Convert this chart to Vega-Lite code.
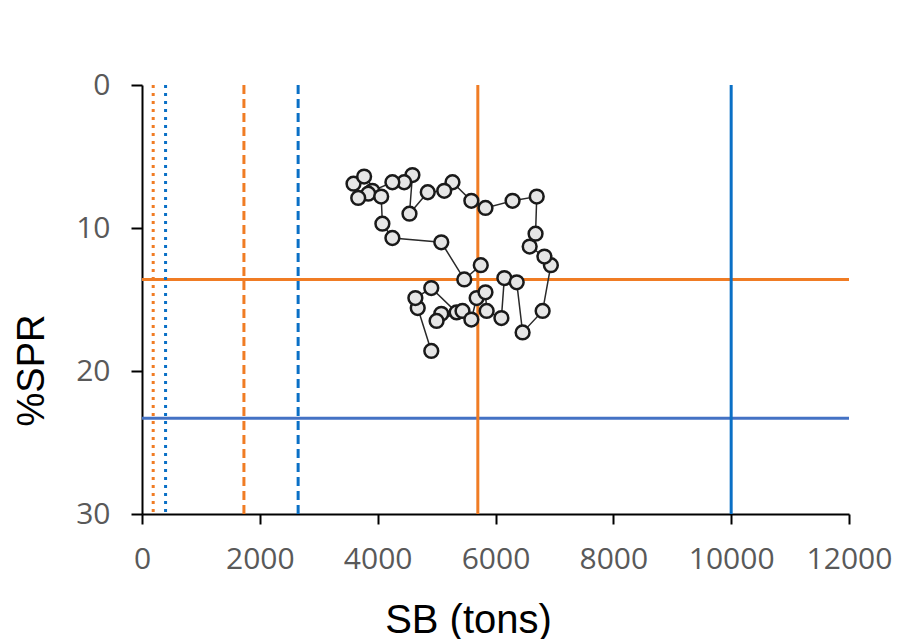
{
  "$schema": "https://vega.github.io/schema/vega-lite/v6.json",
  "width": 707,
  "height": 429,
  "autosize": {"type": "none"},
  "padding": {"left": 142, "top": 85, "right": 50, "bottom": 125},
  "background": "white",
  "config": {
    "view": {"stroke": null},
    "axis": {
      "grid": false,
      "domainColor": "#000000",
      "domainWidth": 2,
      "tickColor": "#000000",
      "tickWidth": 2,
      "labelColor": "#595959",
      "labelFont": "Open Sans",
      "labelFontSize": 30,
      "labelOverlap": false,
      "labelFlush": false,
      "titleFont": "Liberation Sans",
      "titleFontWeight": "normal",
      "titleColor": "#000000"
    }
  },
  "datasets": {
    "traj": [
      {"i": 1, "sb": 4910, "spr": 18.6},
      {"i": 2, "sb": 4680, "spr": 15.6},
      {"i": 3, "sb": 4640, "spr": 14.9},
      {"i": 4, "sb": 4910, "spr": 14.2},
      {"i": 5, "sb": 5340, "spr": 15.9},
      {"i": 6, "sb": 5080, "spr": 16.0},
      {"i": 7, "sb": 5000, "spr": 16.5},
      {"i": 8, "sb": 5440, "spr": 15.8},
      {"i": 9, "sb": 5590, "spr": 16.4},
      {"i": 10, "sb": 5680, "spr": 14.9},
      {"i": 11, "sb": 5830, "spr": 14.5},
      {"i": 12, "sb": 5850, "spr": 15.8},
      {"i": 13, "sb": 6100, "spr": 16.3},
      {"i": 14, "sb": 6150, "spr": 13.5},
      {"i": 15, "sb": 6360, "spr": 13.8},
      {"i": 16, "sb": 6460, "spr": 17.3},
      {"i": 17, "sb": 6800, "spr": 15.8},
      {"i": 18, "sb": 6940, "spr": 12.6},
      {"i": 19, "sb": 6830, "spr": 12.0},
      {"i": 20, "sb": 6580, "spr": 11.3},
      {"i": 21, "sb": 6680, "spr": 10.4},
      {"i": 22, "sb": 6700, "spr": 7.8},
      {"i": 23, "sb": 6290, "spr": 8.1},
      {"i": 24, "sb": 5830, "spr": 8.6},
      {"i": 25, "sb": 5590, "spr": 8.1},
      {"i": 26, "sb": 5270, "spr": 6.8},
      {"i": 27, "sb": 5130, "spr": 7.4},
      {"i": 28, "sb": 4850, "spr": 7.5},
      {"i": 29, "sb": 4540, "spr": 9.0},
      {"i": 30, "sb": 4590, "spr": 6.3},
      {"i": 31, "sb": 4450, "spr": 6.8},
      {"i": 32, "sb": 4250, "spr": 6.8},
      {"i": 33, "sb": 3910, "spr": 7.4},
      {"i": 34, "sb": 3840, "spr": 7.6},
      {"i": 35, "sb": 3670, "spr": 7.9},
      {"i": 36, "sb": 3590, "spr": 6.9},
      {"i": 37, "sb": 3770, "spr": 6.4},
      {"i": 38, "sb": 4060, "spr": 7.8},
      {"i": 39, "sb": 4080, "spr": 9.7},
      {"i": 40, "sb": 4250, "spr": 10.7},
      {"i": 41, "sb": 5080, "spr": 11.0},
      {"i": 42, "sb": 5470, "spr": 13.6},
      {"i": 43, "sb": 5750, "spr": 12.6}
    ],
    "vrefs": [
      {"sb": 190, "stock": "A", "level": "lim"},
      {"sb": 400, "stock": "B", "level": "lim"},
      {"sb": 1730, "stock": "A", "level": "pa"},
      {"sb": 2650, "stock": "B", "level": "pa"},
      {"sb": 5700, "stock": "A", "level": "target"},
      {"sb": 10000, "stock": "B", "level": "target"}
    ],
    "hrefs": [
      {"spr": 13.6, "stock": "A"},
      {"spr": 23.3, "stock": "B"}
    ]
  },
  "layer": [
    {
      "data": {"name": "hrefs"},
      "mark": {"type": "rule", "strokeWidth": 3},
      "encoding": {
        "y": {"field": "spr", "type": "quantitative", "scale": {"domain": [0, 30], "reverse": true, "nice": false}},
        "color": {"field": "stock", "type": "nominal", "scale": {"domain": ["A", "B"], "range": ["#F07C24", "#4472C4"]}, "legend": null}
      }
    },
    {
      "data": {"name": "vrefs"},
      "mark": {"type": "rule", "strokeWidth": 3, "strokeCap": "butt"},
      "encoding": {
        "x": {"field": "sb", "type": "quantitative", "scale": {"domain": [0, 12000], "nice": false}},
        "color": {"field": "stock", "type": "nominal", "scale": {"domain": ["A", "B"], "range": ["#F07C24", "#0A70C6"]}, "legend": null},
        "strokeDash": {"field": "level", "type": "nominal", "scale": {"domain": ["lim", "pa", "target"], "range": [[3, 5], [9, 5], [1, 0]]}, "legend": null}
      }
    },
    {
      "data": {"name": "traj"},
      "mark": {"type": "line", "stroke": "#2a2a2a", "strokeWidth": 1.5},
      "encoding": {
        "x": {"field": "sb", "type": "quantitative"},
        "y": {"field": "spr", "type": "quantitative"},
        "order": {"field": "i", "type": "quantitative"}
      }
    },
    {
      "data": {"name": "traj"},
      "mark": {"type": "point", "filled": true, "fill": "#E6E6E6", "stroke": "#1A1A1A", "strokeWidth": 2.5, "size": 190, "opacity": 1, "fillOpacity": 1},
      "encoding": {
        "x": {
          "field": "sb", "type": "quantitative",
          "axis": {
            "values": [0, 2000, 4000, 6000, 8000, 10000, 12000],
            "format": "d",
            "tickSize": 10,
            "labelPadding": 20,
            "title": "SB (tons)",
            "titleFontSize": 40,
            "titleX": 326,
            "titleY": 118,
            "titleAlign": "center",
            "titleBaseline": "alphabetic",
            "titleAnchor": null
          }
        },
        "y": {
          "field": "spr", "type": "quantitative",
          "axis": {
            "values": [0, 10, 20, 30],
            "tickSize": 11,
            "labelPadding": 21,
            "title": "%SPR",
            "titleFontSize": 38,
            "titleAngle": -90,
            "titleX": -99,
            "titleY": 285,
            "titleAlign": "center",
            "titleBaseline": "alphabetic"
          }
        }
      }
    }
  ],
  "resolve": {"scale": {"color": "independent"}}
}
